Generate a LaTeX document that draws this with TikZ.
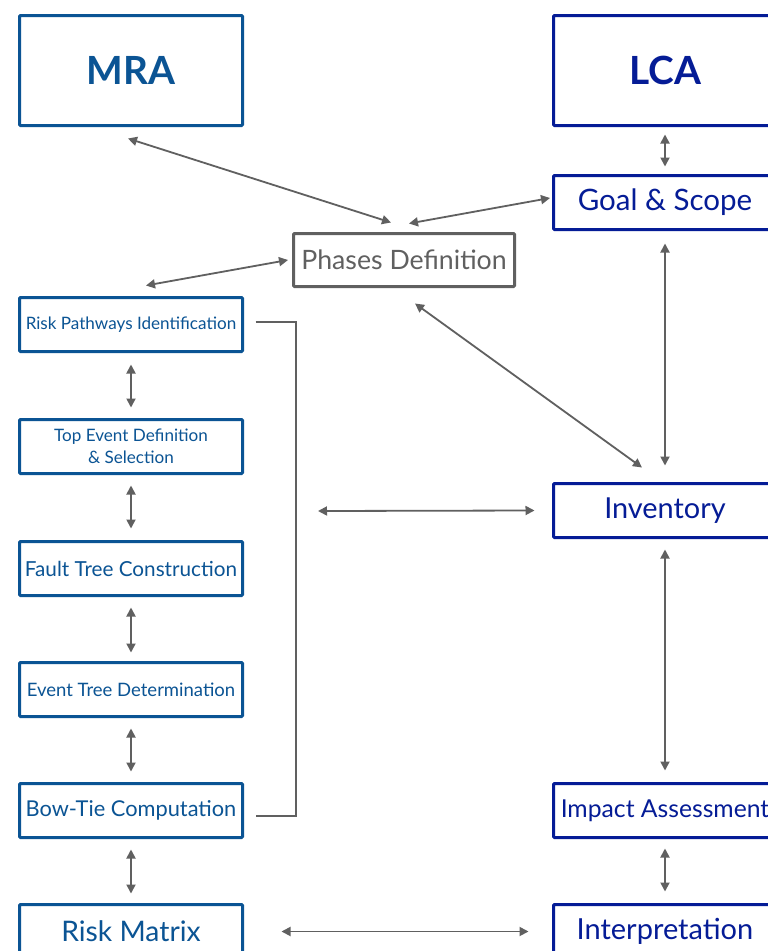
\documentclass[tikz,border=0pt]{standalone}
\usepackage{fontspec}
\setmainfont{Lato}
\usetikzlibrary{arrows.meta,calc}
\definecolor{mra}{RGB}{11,84,148}
\definecolor{lca}{RGB}{5,28,150}
\definecolor{gr}{RGB}{96,96,96}
\newcommand{\fs}[1]{\fontsize{#1}{#1}\selectfont}
\begin{document}
\begin{tikzpicture}[x=1pt,y=-1pt,
  box/.style={draw, line width=3pt, rounded corners=1pt, minimum width=223pt, minimum height=54pt, inner sep=0pt, fill=white, align=center},
  lbox/.style={box, draw=mra, text=mra},
  rbox/.style={box, draw=lca, text=lca},
  pbox/.style={box, draw=gr, text=gr, minimum width=221pt, minimum height=53pt},
  arr/.style={draw=gr, line width=1.8pt, {Triangle[length=9pt,width=9pt]}-{Triangle[length=9pt,width=9pt]}},
  brk/.style={draw=gr, line width=2pt}]
\useasboundingbox (0,0) rectangle (768,951);
\fill[white] (0,0) rectangle (768,951);
\clip (0,0) rectangle (768,951);
% top boxes
\node[lbox, minimum height=110pt, font=\fs{38.8}\bfseries] (mra) at (131,70.5) {MRA};
\node[rbox, minimum height=110pt, font=\fs{38.8}\bfseries] (lca) at (665,70.5) {LCA};
\node[rbox, font=\fs{29.5}] (goal) at (665,202.5) {Goal \& Scope};
\node[pbox, font=\fs{26.7}] (phases) at (404,260) {Phases Definition};
% left column
\node[lbox, font=\fontsize{17.1}{22}\selectfont] (rp) at (131,324.5) {Risk Pathways Identification};
\node[lbox, font=\fontsize{17.1}{22}\selectfont] (te) at (131,446.5) {Top Event Definition\\ \& Selection};
\node[lbox, font=\fs{20.7}] (ft) at (131,568.5) {Fault Tree Construction};
\node[lbox, font=\fs{18.5}] (et) at (131,689.5) {Event Tree Determination};
\node[lbox, font=\fs{21.8}] (bt) at (131,810.5) {Bow-Tie Computation};
\node[lbox, font=\fs{28.3}] (rm) at (131,931.5) {Risk Matrix};
% right column
\node[rbox, font=\fs{28.9}] (inv) at (665,510.5) {Inventory};
\node[rbox, font=\fs{24.7}] (ia) at (665,810.5) {Impact Assessment};
\node[rbox, font=\fs{29}] (int) at (665,931.5) {Interpretation};
\coordinate (mid) at (318,511);
% connectors
\draw[arr] ($(mra.south)+(-3,11.5)$) -- ($(phases.north)+(-13,-9.5)$);
\draw[arr] ($(goal.west)+(-2,-4.5)$) -- ($(phases.north)+(5,-8.5)$);
\draw[arr] ($(phases.west)+(-4,0)$) -- ($(rp.north)+(15,-10.5)$);
\draw[arr] ($(phases.south)+(11,15.5)$) -- ($(inv.north)+(-23,-14.5)$);
\draw[arr] ($(lca.south)+(0,7.5)$) -- ($(goal.north)+(0,-7.5)$);
\draw[arr] ($(goal.south)+(0,12.5)$) -- ($(inv.north)+(0,-16.5)$);
\draw[arr] ($(inv.south)+(0,10.5)$) -- ($(ia.north)+(0,-11.5)$);
\draw[arr] ($(ia.south)+(0,9.5)$) -- ($(int.north)+(0,-11.5)$);
\draw[arr] ($(rp.south)+(0,11.5)$) -- ($(te.north)+(0,-10.5)$);
\draw[arr] ($(te.south)+(0,10.5)$) -- ($(ft.north)+(0,-11.5)$);
\draw[arr] ($(ft.south)+(0,10.5)$) -- ($(et.north)+(0,-8.5)$);
\draw[arr] ($(et.south)+(0,10.5)$) -- ($(bt.north)+(0,-10.5)$);
\draw[arr] ($(bt.south)+(0,10.5)$) -- ($(rm.north)+(0,-9.5)$);
\draw[arr] (mid) -- ($(inv.west)+(-17.5,0)$);
\draw[arr] ($(rm.east)+(37.5,0)$) -- ($(int.west)+(-23.5,0)$);
\draw[brk] ($(rp.east)+(11.5,-2.5)$) -- (296,322) -- (296,816) -- ($(bt.east)+(11.5,5.5)$);
\end{tikzpicture}
\end{document}
